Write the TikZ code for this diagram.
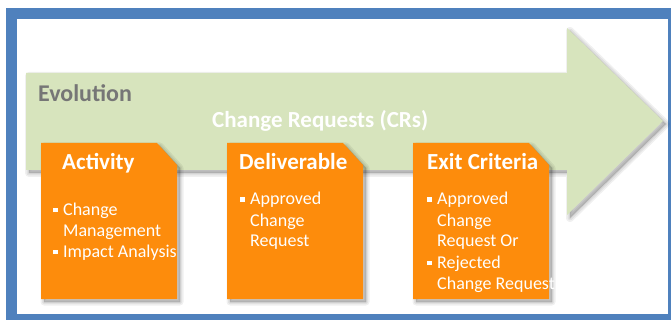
\documentclass[tikz,border=0pt]{standalone}
\usepackage{fontspec}
\setmainfont{Carlito}
\definecolor{frameblue}{HTML}{4F81BD}
\definecolor{evolgreen}{HTML}{D7E4BD}
\definecolor{cardorange}{HTML}{FD8C0C}
\definecolor{labelgrey}{HTML}{767676}
\newcommand{\bul}{\makebox[10pt][l]{\rule[3pt]{4.5pt}{4.5pt}}}
\newcommand{\ind}{\hspace*{10pt}}
% card outline, corner cut at the top right
\newcommand{\cardshape}{(0,0) -- (116,0) -- (136,22) -- (136,156) -- (0,156) -- cycle}
\newcommand{\arrowshape}{(26,73) -- (567,73) -- (567,28) -- (663,121) -- (567,215) -- (567,170) -- (26,170) -- cycle}

\begin{document}
\begin{tikzpicture}[x=1pt, y=-1pt,
  soft/.style={draw=black, fill=black, opacity=.06, line join=round, line width=#1},
  title/.style={anchor=base west, inner sep=0pt, text=white,
    font=\fontsize{23}{27}\selectfont\bfseries},
  items/.style={anchor=base west, inner sep=0pt, text=white,
    font=\fontsize{18}{21}\selectfont}]
  \useasboundingbox (0,0) rectangle (671,320);
  \clip (0,0) rectangle (671,320);
  % frame
  \fill[frameblue] (6,8) rectangle (690,330);
  \fill[white] (17,19) rectangle (668,314);
  % evolution arrow with a soft shadow
  \begin{scope}[shift={(3,3)}]
    \foreach \w in {8,5,2} \path[soft=\w pt] \arrowshape;
  \end{scope}
  \fill[evolgreen] \arrowshape;
  \node[anchor=base west, inner sep=0pt, text=labelgrey,
    font=\fontsize{24}{28}\selectfont\bfseries] (evol) at (38,102) {Evolution};
  \node[title] (crs) at (212,128) {Change Requests (CRs)};
  % cards
  \foreach \x in {41,227,413}{
    \begin{scope}[shift={(\x+3,146)}]
      \foreach \w in {7,4,1.5} \path[soft=\w pt] \cardshape;
    \end{scope}
    \fill[cardorange, shift={(\x,143)}] \cardshape;
  }
  \node[title] (act) at (62,170) {Activity};
  \node[title] (deliv) at (239,170) {Deliverable};
  \node[title] (exitc) at (427,170) {Exit Criteria};
  \node[items] (act-l) at (53,215) {\begin{tabular}[t]{@{}l@{}}
    \bul Change\\ \ind Management\\ \bul Impact Analysis\end{tabular}};
  \node[items] (deliv-l) at (240,205) {\begin{tabular}[t]{@{}l@{}}
    \bul Approved\\ \ind Change\\ \ind Request\end{tabular}};
  \node[items] (exitc-l) at (427,205) {\begin{tabular}[t]{@{}l@{}}
    \bul Approved\\ \ind Change\\ \ind Request Or\\
    \bul Rejected\\ \ind Change Request\end{tabular}};
\end{tikzpicture}
\end{document}
